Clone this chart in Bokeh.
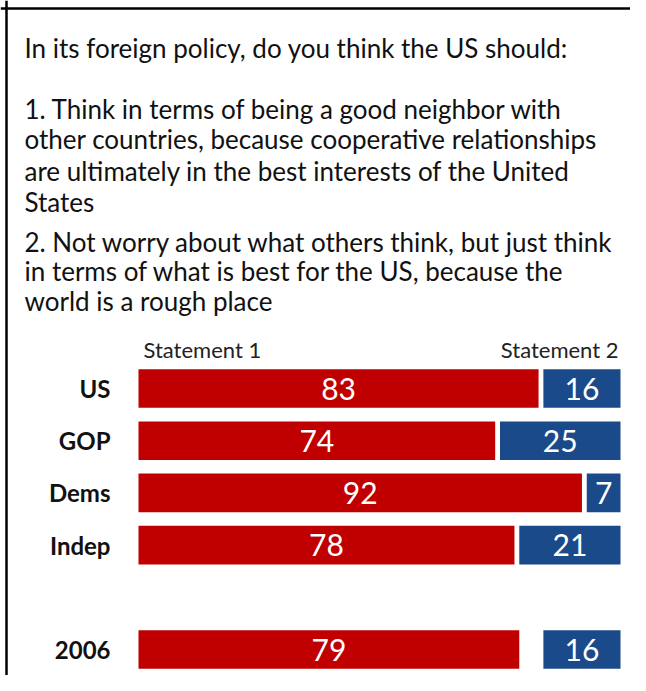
from bokeh.plotting import figure
from bokeh.models import Range1d, Label, Span, ColumnDataSource
from bokeh.core.properties import value
from bokeh.embed import file_html
from bokeh.resources import INLINE

# ---- data ----
groups = ["US", "GOP", "Dems", "Indep", "2006"]
statement1 = [83, 74, 92, 78, 79]
statement2 = [16, 25, 7, 21, 16]
series_labels = ["Statement 1", "Statement 2"]
question = "In its foreign policy, do you think the US should:"
option1 = ["1. Think in terms of being a good neighbor with",
           "other countries, because cooperative relationships",
           "are ultimately in the best interests of the United",
           "States"]
option2 = ["2. Not worry about what others think, but just think",
           "in terms of what is best for the US, because the",
           "world is a rough place"]

FONT = "Lato"
RED = "#C00000"
BLUE = "#1B4A8A"

W, H = 630, 675
px_per_unit = 4.82
bar_left = 138
row0 = 388
row_step = 52.2

x0 = (0 - bar_left) / px_per_unit
x1 = (W - bar_left) / px_per_unit
y_bottom = (H - row0) / row_step
y_top = (0 - row0) / row_step

p = figure(width=W, height=H, output_backend="svg", toolbar_location=None,
           x_range=Range1d(x0, x1), y_range=Range1d(y_bottom, y_top),
           x_axis_location=None, y_axis_location=None, min_border=0,
           outline_line_color=None, background_fill_color="white",
           border_fill_color="white")
p.xgrid.visible = False
p.ygrid.visible = False

# rows: a blank slot before the 2006 row
rows = [i + (1 if g == "2006" else 0) for i, g in enumerate(groups)]
total = 100
src = ColumnDataSource(dict(
    row=rows, g=groups, s1=statement1, s2=statement2,
    s2_left=[total - v for v in statement2],
    right=[total] * len(groups),
    s1_mid=[v / 2 for v in statement1],
    s2_mid=[total - v / 2 for v in statement2],
    s1_txt=[str(v) for v in statement1],
    s2_txt=[str(v) for v in statement2],
    zero=[0] * len(groups),
))

bh = 0.74
p.hbar(y="row", left="zero", right="s1", height=bh, source=src,
       fill_color=RED, line_color=None)
p.hbar(y="row", left="s2_left", right="right", height=bh, source=src,
       fill_color=BLUE, line_color=None)

p.text(x="s1_mid", y="row", text="s1_txt", source=src, text_color="white",
       text_font=value(FONT), text_font_size="30px", text_align="center",
       text_baseline="middle")
p.text(x="s2_mid", y="row", text="s2_txt", source=src, text_color="white",
       text_font=value(FONT), text_font_size="30px", text_align="center",
       text_baseline="middle")
p.text(x="zero", y="row", text="g", source=src, text_color="#111111",
       text_font=value(FONT), text_font_size="24px", text_font_style="bold",
       text_align="right", text_baseline="middle", x_offset=-28)

# series headers
hdr_y = -0.75
p.add_layout(Label(x=0, y=hdr_y, x_offset=5, text=series_labels[0],
                   text_font=FONT, text_font_size="22px", text_color="#222222",
                   text_align="left", text_baseline="middle"))
p.add_layout(Label(x=total, y=hdr_y, x_offset=-2, text=series_labels[1],
                   text_font=FONT, text_font_size="22px", text_color="#222222",
                   text_align="right", text_baseline="middle"))

# question text (screen units: y from bottom)
def add_line(txt, page_y):
    p.add_layout(Label(x=24, y=H - page_y, x_units="screen", y_units="screen",
                       text=txt, text_font=FONT, text_font_size="26px",
                       text_color="#111111", text_align="left",
                       text_baseline="middle"))

add_line(question, 47)
for txt, yy in zip(option1, [108, 138, 170, 201]):
    add_line(txt, yy)
for txt, yy in zip(option2, [241, 270, 300]):
    add_line(txt, yy)

# frame lines (top and left only, as cropped in the reference)
p.add_layout(Span(location=6, dimension="height", location_units="screen",
                  line_color="black", line_width=2.5))
p.add_layout(Span(location=H - 8, dimension="width", location_units="screen",
                  line_color="black", line_width=2.5))

open("out.html", "w").write(file_html(p, INLINE))
